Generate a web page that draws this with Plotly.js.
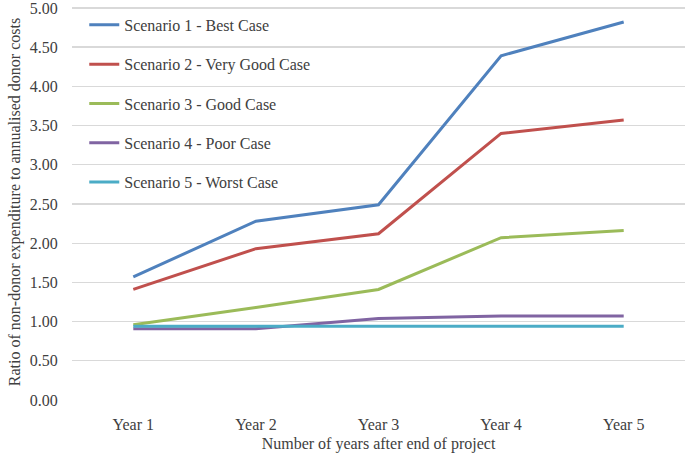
<!DOCTYPE html>
<html>
<head>
<meta charset="utf-8">
<script src="https://cdn.plot.ly/plotly-3.0.1.min.js"></script>
<style>html,body{margin:0;padding:0;background:#fff;}#chart{width:685px;height:453px;}</style>
</head>
<body>
<div id="chart"></div>
<script>
const categories = ["Year 1", "Year 2", "Year 3", "Year 4", "Year 5"];
const seriesNames = ["Scenario 1 - Best Case", "Scenario 2 - Very Good Case", "Scenario 3 - Good Case", "Scenario 4 - Poor Case", "Scenario 5 - Worst Case"];
const scenario1 = [1.57, 2.28, 2.49, 4.39, 4.82];
const scenario2 = [1.41, 1.93, 2.12, 3.40, 3.57];
const scenario3 = [0.96, 1.18, 1.41, 2.07, 2.16];
const scenario4 = [0.91, 0.91, 1.04, 1.07, 1.07];
const scenario5 = [0.94, 0.94, 0.94, 0.94, 0.94];
const yTickStep = 0.5;

const values = [scenario1, scenario2, scenario3, scenario4, scenario5];
const colors = ["#4F81BD", "#C0504D", "#9BBB59", "#8064A2", "#4BACC6"];
const FONT = "Liberation Serif, Times New Roman, serif";

const traces = values.map((v, i) => ({
  x: categories,
  y: v,
  name: seriesNames[i],
  type: "scatter",
  mode: "lines",
  line: {color: colors[i], width: 3},
  legendgroup: "g" + i
}));

const layout = {
  width: 685, height: 453,
  margin: {l: 72, r: 0, t: 4, b: 53},
  paper_bgcolor: "#fff", plot_bgcolor: "#fff",
  font: {family: FONT, size: 16, color: "#404040"},
  showlegend: true,
  legend: {
    x: 0.02, y: 0.99, xanchor: "left", yanchor: "top",
    traceorder: "grouped",
    tracegroupgap: 15.5,
    font: {family: FONT, size: 16, color: "#404040"},
    bgcolor: "rgba(0,0,0,0)"
  },
  xaxis: {
    type: "category",
    range: [-0.5, 4.5],
    showgrid: false, zeroline: false, showline: false,
    ticks: "outside", ticklen: 10, tickcolor: "rgba(0,0,0,0)",
    tickfont: {family: FONT, size: 16, color: "#404040"},
    title: {text: "Number of years after end of project", font: {family: FONT, size: 16, color: "#404040"}, standoff: 5}
  },
  yaxis: {
    range: [0, 5.05],
    tickmode: "linear", tick0: 0, dtick: yTickStep,
    tickformat: ".2f",
    showgrid: true, gridcolor: "#D9D9D9", gridwidth: 1.3,
    zeroline: false, showline: false,
    ticks: "outside", ticklen: 10, tickcolor: "rgba(0,0,0,0)",
    tickfont: {family: FONT, size: 16, color: "#404040"},
    ticklabeloverflow: "allow",
    title: {text: "Ratio of non-donor expenditure to annualised donor costs", font: {family: FONT, size: 16, color: "#404040"}, standoff: 5}
  }
};

Plotly.newPlot("chart", traces, layout, {displayModeBar: false, staticPlot: true});
</script>
</body>
</html>
